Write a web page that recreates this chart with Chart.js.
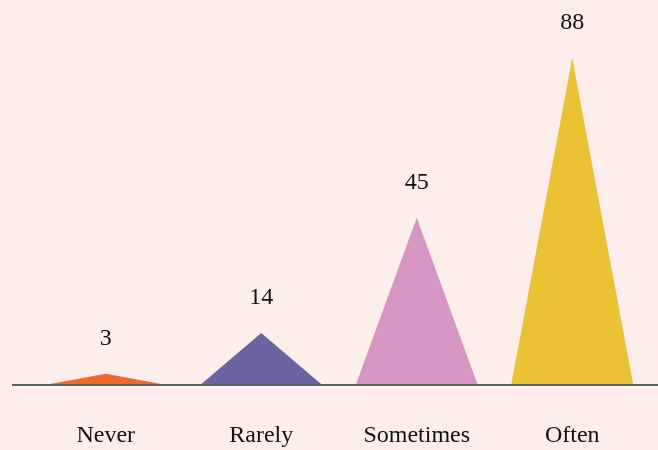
<!DOCTYPE html>
<html>
<head>
<meta charset="utf-8">
<script src="https://cdn.jsdelivr.net/npm/chart.js@4.4.0/dist/chart.umd.min.js"></script>
<style>
  html, body { margin: 0; padding: 0; background: #fdeeeb; }
  #wrap { width: 658px; height: 450px; }
</style>
</head>
<body>
<div id="wrap"><canvas id="myChart"></canvas></div>
<script>
const categories = ['Never', 'Rarely', 'Sometimes', 'Often'];
const values = [3, 14, 45, 88];
const colors = ['#f2672b', '#6c63a1', '#d696c3', '#ebc233'];

// draws each bar as a triangle, plus the value above the tip
const trianglePlugin = {
    id: 'triangles',
    afterDatasetsDraw(chart) {
        const ctx = chart.ctx;
        const area = chart.chartArea;
        const meta = chart.getDatasetMeta(0);
        ctx.save();
        meta.data.forEach(function (bar, i) {
            const p = bar.getProps(['x', 'y', 'base', 'width'], true);
            ctx.fillStyle = colors[i];
            ctx.beginPath();
            ctx.moveTo(p.x - p.width / 2, p.base);
            ctx.lineTo(p.x, p.y);
            ctx.lineTo(p.x + p.width / 2, p.base);
            ctx.closePath();
            ctx.fill();

            ctx.fillStyle = '#111';
            ctx.font = '24px "Liberation Serif", serif';
            ctx.textAlign = 'center';
            ctx.textBaseline = 'alphabetic';
            ctx.fillText(values[i], p.x, p.y - 29);
        });
        // baseline
        ctx.strokeStyle = '#5b6467';
        ctx.lineWidth = 2;
        ctx.beginPath();
        ctx.moveTo(area.left - 16, area.bottom);
        ctx.lineTo(chart.width, area.bottom);
        ctx.stroke();
        ctx.restore();
    }
};

const data = {
    labels: categories,
    datasets: [{
        data: values,
        backgroundColor: 'rgba(0,0,0,0)',
        borderWidth: 0,
        barPercentage: 1,
        categoryPercentage: 0.785
    }]
};

const config = {
    type: 'bar',
    data: data,
    options: {
        responsive: true,
        maintainAspectRatio: false,
        animation: false,
        layout: {
            padding: { left: 28, right: 8, top: 58, bottom: 0 }
        },
        plugins: {
            legend: { display: false },
            tooltip: { enabled: false }
        },
        scales: {
            x: {
                grid: { display: false, drawTicks: false },
                border: { display: false },
                afterFit: function (scale) { scale.height = 65; },
                ticks: {
                    color: '#111',
                    padding: 36,
                    font: { family: '"Liberation Serif", serif', size: 24 }
                }
            },
            y: {
                display: false,
                min: 0,
                max: 88
            }
        }
    },
    plugins: [trianglePlugin]
};

const myChart = new Chart(document.getElementById('myChart'), config);
</script>
</body>
</html>
